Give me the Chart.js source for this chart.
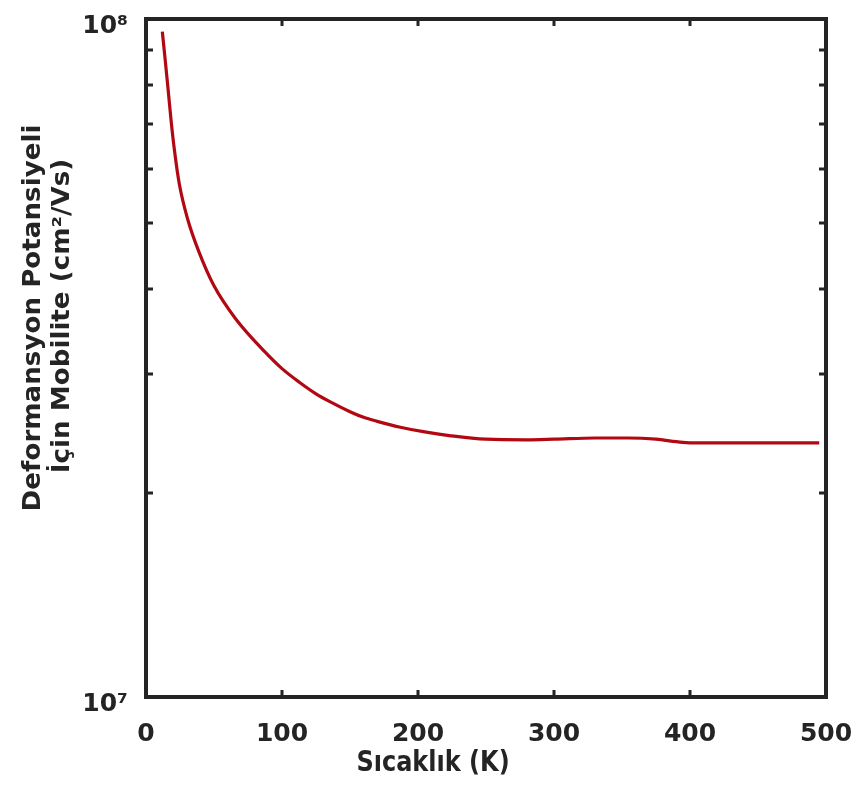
<!DOCTYPE html>
<html>
<head>
<meta charset="utf-8">
<script src="https://cdn.jsdelivr.net/npm/chart.js@4.4.1/dist/chart.umd.min.js"></script>
<style>
  html, body { margin: 0; padding: 0; background: #ffffff; }
  #c { display: block; }
</style>
</head>
<body>
<canvas id="c" width="858" height="789"></canvas>
<script>
// Temperature (K)
const temperatures = [12, 14, 16, 18.4, 20.8, 24.5, 30.6, 39, 50, 66, 88, 100, 113, 125, 137, 150, 160, 170, 187, 205, 223, 250, 280, 300, 330, 355, 375, 390, 400, 430, 460, 495];
// Mobility for deformation potential (cm²/Vs)
const mobility = [9.58e7, 8.75e7, 7.97e7, 7.10e7, 6.43e7, 5.71e7, 5.07e7, 4.53e7, 4.04e7, 3.61e7, 3.22e7, 3.05e7, 2.91e7, 2.80e7, 2.715e7, 2.635e7, 2.585e7, 2.55e7, 2.50e7, 2.46e7, 2.43e7, 2.40e7, 2.395e7, 2.40e7, 2.41e7, 2.41e7, 2.40e7, 2.38e7, 2.37e7, 2.37e7, 2.37e7, 2.37e7];
const xTicks = [0, 100, 200, 300, 400, 500];
const yTicks = [1e7, 2e7, 3e7, 4e7, 5e7, 6e7, 7e7, 8e7, 9e7, 1e8];
const yTickLabels = { 10000000: '10\u2077', 100000000: '10\u2078' };
const xTitle = 'Sıcaklık (K)';
const yTitleLines = ['Deformansyon Potansiyeli', 'İçin Mobilite (cm²/Vs)'];

const points = temperatures.map((t, i) => ({ x: t, y: mobility[i] }));
const INK = '#242424';
const FONT = '"DejaVu Sans", Verdana, sans-serif';

const framePlugin = {
  id: 'frame',
  afterDraw(chart) {
    const { ctx, chartArea: a, scales } = chart;
    ctx.save();
    ctx.strokeStyle = INK;
    ctx.lineWidth = 3;
    const tl = 7;
    yTicks.forEach(v => {
      if (v <= 1e7 || v >= 1e8) return;
      const y = Math.round(scales.y.getPixelForValue(v));
      ctx.beginPath();
      ctx.moveTo(a.left, y); ctx.lineTo(a.left + tl, y);
      ctx.moveTo(a.right, y); ctx.lineTo(a.right - tl, y);
      ctx.stroke();
    });
    xTicks.forEach(v => {
      if (v <= 0 || v >= 500) return;
      const x = Math.round(scales.x.getPixelForValue(v));
      ctx.beginPath();
      ctx.moveTo(x, a.bottom); ctx.lineTo(x, a.bottom - tl);
      ctx.moveTo(x, a.top); ctx.lineTo(x, a.top + tl);
      ctx.stroke();
    });
    ctx.lineWidth = 4;
    ctx.strokeRect(a.left, a.top, a.right - a.left, a.bottom - a.top);

    ctx.fillStyle = INK;
    ctx.textAlign = 'center';
    ctx.textBaseline = 'middle';
    ctx.save();
    ctx.translate(433, 764);
    ctx.scale(1, 1.17);
    ctx.font = 'bold 24px ' + FONT;
    ctx.fillText(xTitle, 0, 0);
    ctx.restore();
    const yPos = [[34, 318], [63, 316]];
    yTitleLines.forEach((line, i) => {
      ctx.save();
      ctx.translate(yPos[i][0], yPos[i][1]);
      ctx.rotate(-Math.PI / 2);
      ctx.scale(1.09, 1);
      ctx.font = 'bold 24px ' + FONT;
      ctx.fillText(line, 0, 0);
      ctx.restore();
    });
    ctx.restore();
  }
};

new Chart(document.getElementById('c'), {
  type: 'line',
  data: {
    datasets: [{
      data: points,
      borderColor: '#b20812',
      borderWidth: 3.2,
      pointRadius: 0,
      fill: false,
      cubicInterpolationMode: 'monotone'
    }]
  },
  options: {
    responsive: false,
    animation: false,
    devicePixelRatio: 1,
    layout: { padding: { top: 19, right: 32, left: 0, bottom: 0 } },
    plugins: { legend: { display: false }, tooltip: { enabled: false } },
    scales: {
      x: {
        type: 'linear',
        min: 0, max: 500,
        afterBuildTicks(scale) { scale.ticks = xTicks.map(v => ({ value: v })); },
        ticks: {
          color: INK,
          font: { family: FONT, weight: 'bold', size: 25 },
          padding: 14,
          maxRotation: 0,
          autoSkip: false
        },
        grid: { display: false },
        border: { display: false },
        afterFit(scale) {
          scale.height = 92;
          scale.paddingLeft = 0; scale.paddingRight = 0;
        }
      },
      y: {
        type: 'logarithmic',
        min: 1e7, max: 1e8,
        afterBuildTicks(scale) { scale.ticks = yTicks.map(v => ({ value: v })); },
        ticks: {
          color: INK,
          font: { family: FONT, weight: 'bold', size: 25 },
          padding: 10,
          labelOffset: 7,
          autoSkip: false,
          callback: (v) => yTickLabels[v] || ''
        },
        grid: { display: false },
        border: { display: false },
        afterFit(scale) {
          scale.width = 146;
          scale.paddingTop = 0; scale.paddingBottom = 0;
        }
      }
    }
  },
  plugins: [framePlugin]
});
</script>
</body>
</html>
